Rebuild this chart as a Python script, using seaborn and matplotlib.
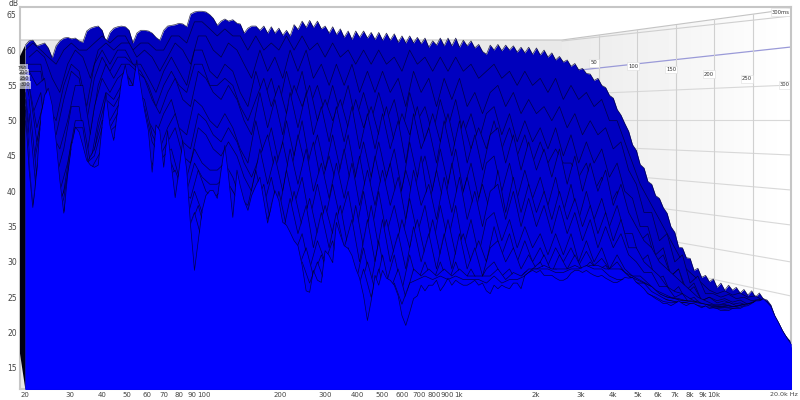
# Waterfall plot, slices drawn back to front
import numpy as np
import matplotlib
matplotlib.use("Agg")
import matplotlib.pyplot as plt
from matplotlib.patches import Polygon
import seaborn as sns

# Frequency grids (Hz) ------------------------------------------------------------------------------------------------
freq_a = [20, 21.4, 23, 24.6, 26.4, 28.3, 30.3, 32.5, 34.8, 37.3,
          40, 42.9, 46, 49.3, 52.8, 56.6, 60.7, 65, 69.7, 74.7,
          80, 85.8, 92, 98.6, 105.7, 113, 121, 130, 139, 149,
          160, 172, 184, 197, 211, 226, 243, 260, 279, 299,
          320, 343, 368, 394, 423, 453, 485, 520, 558, 598,
          641, 687, 736, 789, 845, 906, 971, 1040, 1115, 1195,
          1281, 1373, 1472, 1578, 1691, 1812, 1943, 2082, 2232, 2392,
          2564, 2748, 2945, 3157, 3384, 3627, 3887, 4166, 4465, 4786,
          5130, 5498, 5893, 6316, 6769, 7255, 7776, 8335, 8933, 9575,
          10262, 11000, 11789, 12635, 13543, 14515, 15557, 16674, 17872, 19155,
          20000]
freq_b = [20.7, 22.2, 23.8, 25.5, 27.3, 29.3, 31.4, 33.6, 36, 38.6,
          41.4, 44.4, 47.6, 51, 54.7, 58.6, 62.8, 67.3, 72.2, 77.3,
          82.8, 88.8, 95.2, 102, 109, 117, 125, 135, 144, 154,
          166, 178, 190, 204, 218, 234, 252, 269, 289, 310,
          331, 355, 381, 408, 438, 469, 502, 538, 578, 619,
          664, 711, 762, 817, 875, 938, 1005, 1077, 1154, 1237,
          1326, 1421, 1524, 1634, 1751, 1876, 2012, 2155, 2311, 2476,
          2655, 2845, 3049, 3268, 3503, 3755, 4024, 4313, 4623, 4955,
          5311, 5692, 6101, 6539, 7008, 7511, 8050, 8629, 9248, 9913,
          10624, 11388, 12205, 13081, 14021, 15027, 16106, 17263, 18503, 19831]
freq_fine = sorted(freq_a + freq_b)

# Level in dB, top outline and frontmost slice on the fine grid ---------------------------------------------------------
back_db = [60.7, 61.3, 61.4, 60.6, 60.8, 61, 60.3, 58.9, 60.6, 61.3, 61.7, 61.8, 61.6, 61.7, 61.3, 61.1, 62.7, 63.1, 63.3, 63.4,
           62.8, 61.1, 62.5, 63.1, 63.3, 63.4, 63.3, 62.8, 61, 62.4, 62.8, 62.8, 62.7, 62.4, 61.8, 61.4, 62.8, 63.4, 63.5, 63.6,
           63.8, 63.7, 63.3, 65.1, 65.4, 65.5, 65.5, 65.4, 65, 64.5, 63.5, 64.1, 64.4, 64.1, 64.3, 63.8, 63.7, 62.4, 63.1, 63.4,
           63.4, 62.8, 63.4, 62.4, 63.3, 62.4, 63.1, 62.1, 62.8, 62, 63.6, 62.9, 64.1, 63.2, 64.2, 63.2, 64.1, 63, 63.4, 62.4,
           63.3, 62.2, 63, 61.8, 62.7, 61.5, 62.7, 61.8, 62.7, 61.7, 62.5, 61.5, 62.5, 61.4, 62.4, 61.4, 62.3, 61.1, 62, 61,
           62, 61, 61.8, 60.9, 61.7, 60.4, 61.3, 60.7, 61.7, 60.6, 61.7, 60.6, 61.7, 60.4, 61.4, 60.6, 61.3, 60.3, 60.8, 59.8,
           59.4, 60.7, 60, 60.8, 59.9, 60.7, 60, 60.6, 59.7, 60.4, 59.6, 60.4, 59.4, 60.3, 59.3, 60, 59, 59.6, 58.6, 59.1,
           58.3, 58.6, 57.7, 58.1, 57.2, 57.4, 56.7, 56.6, 55.7, 56, 55, 54.7, 53.6, 53.2, 51.6, 50.8, 49.6, 48.5, 46.6, 45.8,
           43.8, 43.3, 41.4, 41, 39.4, 39, 37.7, 36.9, 35, 34.2, 32.1, 32, 30.6, 30.5, 28.8, 29.1, 27.8, 28.1, 27.2, 27.6,
           26.4, 27, 26, 26.7, 26, 26.4, 25.6, 26.1, 25.3, 25.9, 25, 25.6, 24.8, 24.6, 23.9, 22.4, 21.4, 20.3, 19.4, 18.6, 18.4]
front_db = [51.5, 43, 37.7, 43, 50.8, 53.6, 54.6, 52.2, 47.2, 41.6, 36.9, 42.3, 46.5, 49.1, 48.4, 46.5, 44.4, 43.7, 43.4, 43.7,
            49.4, 53.9, 49.4, 47.2, 51.5, 55.7, 57.9, 55, 55, 58.6, 55, 51.5, 48.6, 42.7, 49.4, 48.6, 43.4, 48.6, 43.7, 39.1,
            43, 47.2, 43, 35.2, 28.8, 33, 37.3, 39.4, 40.1, 40.1, 39, 43, 46.5, 42.3, 36.3, 43, 40.8, 38.7, 37.3, 39.4,
            40.8, 42, 38.7, 35.5, 38, 40.1, 38.7, 35.6, 35.2, 34.2, 33, 32.3, 29.5, 25.9, 25.7, 28.8, 27.4, 27.1, 31.6, 30.9,
            29.9, 35.6, 33.8, 32.3, 31.9, 30.9, 29.1, 27.7, 25.2, 21.7, 24.5, 28.1, 26.7, 28.8, 27.7, 27.4, 26.7, 25.2, 22.4, 21,
            22.8, 24.8, 25.2, 26.7, 25.9, 26.7, 26.7, 27.4, 25.9, 26.7, 27.7, 26.7, 27.4, 27, 26.7, 26.7, 27, 27.4, 26.7, 27,
            25.9, 25.5, 26.7, 26.2, 26.7, 26.4, 26.2, 27, 27, 26.2, 28.1, 28.5, 28.8, 28.5, 28.8, 28.1, 28.1, 28.1, 27.7, 27.4,
            27.4, 27.7, 28.4, 28.8, 28.8, 28.5, 28.8, 28.4, 28.1, 27.9, 28.1, 27.7, 27.4, 27.1, 27.1, 27.4, 27.8, 27.7, 27.8, 27.1,
            26.7, 26.2, 25.5, 25.2, 24.8, 24.5, 24.1, 24.1, 23.8, 24.1, 24.5, 24.1, 23.8, 24.1, 24.1, 23.8, 23.5, 23.8, 23.4, 23.5,
            23.4, 23.1, 23.1, 23.1, 23.4, 23.4, 23.4, 23.7, 23.8, 24.1, 24.5, 24.5, 24.8, 24.3, 23.7, 22.4, 21.4, 20.3, 19.4, 18.6, 18.4]

# Slices in between, back to front. Odd ones use freq_a, even ones freq_b unless listed below
slice_1 = [60, 61, 60, 59, 58, 60, 61, 60, 60, 61,
           62, 61, 62, 62, 60, 61, 61, 60, 60, 62,
           62, 61, 64, 64, 63, 62, 63, 62, 62, 60,
           62, 60, 61, 60, 62, 60, 62, 60, 61, 59,
           61, 59, 60, 58, 60, 58, 60, 58, 59, 57,
           60, 58, 59, 57, 59, 57, 59, 57, 58, 56,
           57, 58, 56, 57, 55, 57, 55, 56, 54, 56,
           53, 55, 53, 54, 52, 53, 50, 50, 47, 44,
           41, 39, 37, 35, 33, 31, 29, 28, 27, 26,
           25.5, 25.9, 25.3, 25.6, 25, 25.2, 24.5, 22, 20, 19, 18.4]
slice_2 = [59, 60, 59, 56, 54, 58, 60, 59, 56, 60,
           61, 60, 61, 61, 59, 60, 59, 57, 59, 61,
           60, 58, 62, 62, 60, 59, 61, 60, 58, 56,
           60, 57, 59, 56, 60, 57, 60, 56, 58, 55,
           58, 55, 58, 54, 57, 54, 57, 54, 56, 52,
           57, 54, 56, 52, 56, 53, 56, 52, 54, 51,
           54, 55, 52, 54, 51, 53, 51, 52, 50, 52,
           49, 51, 48, 50, 48, 49, 46, 47, 43, 41,
           37, 37, 33, 34, 30, 31, 27, 28, 25.5, 25.5,
           25, 25.4, 24.8, 25, 24.5, 24.7, 24, 21.5, 20, 18.8]
slice_3 = [58, 58, 58, 52, 50, 55, 58, 57, 52, 58,
           60, 58, 60, 60, 58, 58, 56, 54, 57, 59,
           57, 55, 60, 60, 57, 56, 58, 57, 54, 52,
           57, 53, 56, 52, 57, 53, 57, 52, 55, 51,
           55, 51, 55, 50, 54, 50, 54, 50, 53, 48,
           54, 50, 52, 48, 53, 49, 53, 48, 51, 47,
           51, 52, 48, 51, 47, 50, 47, 49, 46, 49,
           45, 48, 44, 47, 44, 46, 42, 44, 40, 39,
           35, 35, 31, 32, 28, 29, 26, 27, 24.5, 25,
           24.5, 24.8, 24.3, 24.6, 24, 24.2, 23.6, 21, 19.6, 18.6, 18]
slice_4 = [57, 57, 57, 50, 48, 53, 57, 56, 50, 56,
           59, 57, 59, 59, 58, 57, 55, 52, 55, 57,
           55, 54, 58, 58, 55, 55, 56, 55, 52, 50,
           53, 56, 52, 55, 51, 55, 52, 55, 50, 53,
           50, 53, 49, 53, 49, 52, 48, 52, 47, 51,
           48, 52, 47, 51, 47, 51, 46, 50, 46, 49,
           46, 50, 46, 49, 45, 48, 44, 47, 44, 46,
           44, 44, 42, 44, 40, 42, 38, 40, 37, 36,
           33, 34, 30, 31, 28, 29, 25.5, 26.5, 24.5, 25,
           24.2, 24.5, 24, 24.2, 23.8, 24, 23.4, 20.6, 19.5, 18.5, 17.9]
slice_5 = [57, 55, 56, 48, 46, 50, 55, 55, 48, 55,
           58, 56, 58, 58, 57, 56, 53, 51, 54, 56,
           53, 52, 57, 56, 54, 53, 55, 53, 50, 48,
           54, 49, 53, 48, 54, 49, 54, 48, 52, 47,
           52, 47, 52, 46, 51, 46, 51, 46, 50, 44,
           51, 46, 49, 44, 50, 45, 50, 44, 48, 43,
           48, 49, 44, 48, 43, 47, 43, 46, 42, 46,
           41, 45, 40, 44, 40, 43, 38, 41, 37, 35,
           33, 32, 30, 29, 28, 27, 26, 25, 24.5, 24,
           24, 24.3, 23.8, 24, 23.5, 23.7, 23.2, 20.5, 19.4, 18.5]
slice_6 = [56, 51, 54, 44, 42, 46, 52, 52, 45, 52,
           56, 54, 56, 57, 55, 54, 50, 48, 51, 53,
           49, 48, 53, 52, 50, 49, 51, 49, 46, 44,
           50, 45, 49, 44, 50, 45, 50, 44, 48, 43,
           48, 43, 48, 42, 47, 42, 47, 42, 46, 40,
           47, 42, 45, 40, 46, 41, 46, 40, 44, 39,
           44, 45, 40, 44, 39, 43, 39, 42, 38, 42,
           37, 41, 36, 40, 36, 39, 35, 38, 34, 34,
           30, 31, 27.5, 28, 25.5, 26.5, 24.5, 25, 23.8, 24,
           23.8, 24, 23.6, 23.8, 23.8, 24, 23.3, 20.2, 19.3, 18.5, 17.8]
slice_7 = [55, 49, 53, 42, 40, 44, 50, 50, 44, 50,
           54, 53, 55, 56, 54, 53, 48, 46, 49, 51,
           47, 46, 51, 50, 48, 47, 49, 47, 44, 42,
           45, 48, 43, 47, 42, 48, 43, 47, 41, 45,
           41, 46, 40, 45, 39, 45, 40, 44, 38, 43,
           39, 45, 38, 43, 38, 44, 38, 42, 37, 41,
           37, 43, 37, 42, 37, 41, 37, 40, 36, 40,
           36, 39, 35, 38, 34, 37, 33, 36, 32, 32,
           30, 29, 28, 26.5, 25.8, 25.5, 24.8, 24.2, 23.9, 23.5,
           23.7, 23.9, 23.5, 23.7, 23.7, 23.9, 23.2, 20.1, 19.2, 18.4]
slice_8 = [55, 47, 52, 40, 38, 42, 49, 49, 42, 49,
           53, 52, 54, 55, 53, 52, 47, 45, 47, 49,
           45, 44, 49, 48, 46, 45, 47, 45, 42, 40,
           46, 41, 45, 40, 46, 41, 46, 40, 44, 39,
           44, 39, 44, 38, 43, 38, 43, 38, 42, 36,
           43, 38, 41, 36, 42, 37, 42, 36, 40, 35,
           40, 41, 36, 40, 35, 39, 35, 38, 34, 38,
           34, 37, 33, 36, 32, 35, 32, 34, 31, 30,
           28.5, 28.5, 26.5, 26.5, 25, 25.5, 24, 24.5, 23.5, 23.8,
           23.6, 23.8, 23.4, 23.6, 23.6, 23.8, 23, 20, 19.2, 18.4]
slice_9 = [54, 44, 50, 37, 37, 40, 47, 46, 44, 46,
           50, 50, 52, 53, 51, 50, 45, 43, 45, 46,
           42, 42, 46, 44, 43, 43, 44, 42, 39, 38,
           43, 38, 42, 37, 43, 38, 42, 36, 41, 36,
           41, 36, 40, 34, 40, 34, 40, 34, 38, 33,
           39, 34, 38, 32, 38, 33, 38, 32, 36, 31,
           36, 37, 33, 36, 32, 35, 32, 34, 31, 34,
           31, 34, 30, 33, 30, 32, 29, 31, 29, 28,
           28, 27, 26, 25.5, 25, 24.8, 24.5, 24, 23.8, 23.5,
           23.5, 23.6, 23.5, 23.6, 23.8, 23.9, 23, 20, 19, 18.3, 17.6]
slice_10 = [53, 43, 49, 38, 36, 39, 46, 45, 44, 45,
            49, 49, 51, 52, 50, 48, 43, 41, 43, 44,
            41, 40, 44, 42, 41, 41, 42, 40, 38, 37,
            38, 41, 35, 40, 35, 40, 35, 39, 34, 38,
            34, 38, 32, 38, 32, 38, 32, 36, 31, 36,
            32, 36, 31, 36, 31, 36, 31, 34, 30, 33,
            30, 35, 31, 34, 30, 33, 30, 32, 29.5, 32,
            30, 32, 29.5, 31.5, 29.5, 30.5, 29, 30, 28.5, 28,
            27.4, 26.8, 25.8, 25.2, 24.9, 24.6, 24.5, 24.2, 23.9, 23.6,
            23.5, 23.5, 23.5, 23.6, 23.8, 24, 23, 20, 19, 18.3, 17.6]
slice_11 = [53, 42, 48, 38, 36, 38, 45, 44, 43, 44,
            48, 49, 50, 52, 49, 47, 42, 40, 42, 43,
            40, 39, 43, 40, 39, 40, 41, 39, 37, 36,
            40, 36, 39, 34, 39, 34, 38, 32, 37, 32,
            37, 32, 36, 30, 36, 30, 36, 30, 34, 29,
            35, 30, 34, 29, 34, 29, 34, 29, 32, 28,
            32, 33, 30, 32, 29, 31, 29, 31, 28.5, 31,
            29, 31, 28.8, 30, 28.8, 29.5, 28, 29, 28, 27.5,
            27, 26.5, 25.5, 25, 24.8, 24.5, 24.5, 24.3, 24, 23.7,
            23.5, 23.4, 23.5, 23.7, 23.9, 24.2, 23, 20, 19, 18.2]
slice_12 = [52, 40, 46, 36, 34, 37, 43, 43, 42, 44,
            46, 47, 48, 50, 47, 45, 40, 38, 40, 40,
            38, 36, 40, 37, 36, 37, 38, 36, 34, 33,
            37, 34, 36, 31, 35, 31, 34, 29, 33, 30,
            33, 28, 32, 27, 32, 27, 33, 27, 31, 26,
            31, 27, 30, 27, 30, 27, 30, 27, 29, 27,
            29, 30, 28, 29, 27, 28.5, 29, 30, 28, 29,
            28, 29, 28, 29, 29, 29, 28, 28.5, 28, 27.5,
            26.7, 26, 25.3, 24.8, 24.5, 24.2, 24.2, 24, 23.7, 23.5,
            23.4, 23.3, 23.4, 23.7, 24, 24.5, 24, 21, 19.4, 18.4, 17.5]
slice_13 = [51, 39, 45, 37, 35, 38, 42, 42, 41, 43,
            45, 46, 47, 49, 46, 44, 39, 37, 39, 39,
            37, 35, 38, 34, 34, 36, 37, 35, 33, 32,
            36, 33, 34, 30, 33, 29, 32, 28, 31, 28,
            31, 27, 30, 26, 30, 26, 31, 26, 29, 25,
            29, 28, 29, 28, 29, 28, 29, 28, 28, 28,
            28, 29, 27.5, 28.5, 28, 29, 29, 29.5, 29, 29,
            29, 29.5, 29, 29.5, 29.5, 29, 29, 29, 28, 27,
            27, 25.8, 25.2, 24.6, 24.4, 24.2, 24.4, 24.2, 24, 23.6,
            23.6, 23.6, 23.7, 24, 24.2, 24.3, 23.6, 20.5, 19.2, 18.3]
slice_14 = [50, 38, 44, 36, 34, 37, 40, 41, 40, 42,
            44, 45, 46, 48, 45, 43, 38, 36, 38, 38,
            36, 34, 37, 33, 33, 35, 36, 34, 32, 31,
            35, 32, 33, 29, 31, 28, 30, 27, 30, 27,
            30, 26, 29, 25, 29, 25, 29, 25, 27, 24,
            27, 27.5, 28, 27.5, 28, 27.5, 28, 27.5, 27.5, 27.5,
            27, 28, 27, 27.5, 27.5, 28, 29, 29, 29, 28.5,
            28.5, 29, 29, 29.5, 29, 29, 28, 27.5, 27.5, 27,
            26.5, 25.5, 25, 24.4, 24.2, 24.3, 24.2, 24, 23.7, 23.6,
            23.4, 23.3, 23.4, 23.6, 24, 24.4, 23.8, 21, 19.4, 18.4, 17.5]

x_ticks = [20, 30, 40, 50, 60, 70, 80, 90, 100, 200, 300, 400, 500, 600, 700, 800, 900, 1000,
           2000, 3000, 4000, 5000, 6000, 7000, 8000, 9000, 10000]
x_labels = ["20", "30", "40", "50", "60", "70", "80", "90", "100", "200", "300", "400", "500", "600", "700", "800", "900",
            "1k", "2k", "3k", "4k", "5k", "6k", "7k", "8k", "9k", "10k"]
y_ticks = [15, 20, 25, 30, 35, 40, 45, 50, 55, 60, 65]
time_labels = ["50", "100", "150", "200", "250", "300"]

sns.set_theme(style="white")
text_col = "#444444"
fig = plt.figure(figsize=(8, 4), dpi=100, facecolor="white")

# back wall, drawn in pixels behind the data axes
bg = fig.add_axes([0, 0, 1, 1], zorder=0)
bg.set_xlim(0, 800)
bg.set_ylim(400, 0)
bg.axis("off")
bg.add_patch(plt.Rectangle((20, 40), 542, 350, fc="#e9e9e9", ec="none"))
grad = bg.imshow(np.linspace(0.92, 1, 64)[None, :], cmap="gray", vmin=0, vmax=1, extent=(562, 791, 400, 0), aspect="auto")
grad.set_clip_path(Polygon([(562, 40), (791, 9), (791, 300), (562, 250)], transform=bg.transData))
bg.set_xlim(0, 800)
bg.set_ylim(400, 0)
bg.plot([20, 562, 791], [40, 40, 9], color="#c4c4c4", lw=0.8)
bg.plot([562, 791], [41, 16], color="#cfcfcf", lw=0.8)
for y_end in [85, 120, 155, 190, 225, 262, 296]:
    bg.plot([562, 791], [120 + (y_end - 120) * 0.72, y_end], color="#d8d8d8", lw=0.8)
bg.plot([562, 791], [72, 47], color="#9a9ad8", lw=0.9)
for x_wall in [599.3, 637.3, 675.7, 714.3, 752.7]:
    top = 40 - (x_wall - 562) * 31 / 229
    bg.plot([x_wall, x_wall], [top, 300], color="#d0d0d0", lw=0.8)
for lab, lx, ly in zip(time_labels, [594, 633, 671, 709, 747, 785], [63, 66, 69.5, 74, 79, 85]):
    bg.text(lx, ly, lab, fontsize=3.8, color="#333333", ha="center", va="center",
            bbox=dict(fc="white", ec="#dddddd", lw=0.4, pad=1))
bg.text(781, 12, "300ms", fontsize=3.8, color="#333333", ha="center", va="center",
        bbox=dict(fc="white", ec="#dddddd", lw=0.4, pad=1))

ax = fig.add_axes([19.5 / 800, 11 / 400, 771.5 / 800, 382 / 400], zorder=2)
ax.patch.set_alpha(0)
ax.set_xscale("log")

slices = [(freq_fine, back_db), (freq_a, slice_1), (freq_b, slice_2), (freq_a, slice_3), (freq_a, slice_4),
          (freq_b, slice_5), (freq_a, slice_6), (freq_b, slice_7), (freq_b, slice_8), (freq_a, slice_9),
          (freq_a, slice_10), (freq_b, slice_11), (freq_a, slice_12), (freq_b, slice_13), (freq_a, slice_14),
          (freq_fine, front_db)]
fills = sns.blend_palette(["#0000bc", "#0000f4"], len(slices) - 1) + ["#0000ff"]

floor = 12
for i, (f, db) in enumerate(slices):
    ax.fill_between(f, db, floor, color=fills[i], lw=0, zorder=2 + i)
    sns.lineplot(x=f, y=db, ax=ax, color="#000028", linewidth=0.5, alpha=0.8, estimator=None, sort=False,
                 legend=False, zorder=2.5 + i)

# dark edge of the stacked slices at 20 Hz
ax.fill([18.98, 20, 20, 18.98], [59, 60.7, 12, 17.5], color="#000012", lw=0, zorder=30)

ax.set_xlim(18.98, 20000)
ax.set_ylim(floor, 66.1)
ax.set_xticks(x_ticks)
ax.set_xticklabels(x_labels, fontsize=5, color=text_col)
ax.set_yticks(y_ticks)
ax.set_yticklabels(y_ticks, fontsize=5.5, color=text_col)
ax.minorticks_off()
ax.tick_params(axis="both", length=0, pad=2)
ax.set_xlabel("")
ax.set_ylabel("")
for side in ax.spines.values():
    side.set_color("#c6c6c6")
    side.set_linewidth(1.5)

fig.text(14 / 800, 1 - 3.5 / 400, "dB", fontsize=5.5, color=text_col, ha="center", va="center")
fig.text(798 / 800, 1 - 395 / 400, "20.0k Hz", fontsize=4.6, color=text_col, ha="right", va="center")

# time labels stacked against the left edge
for lab, lx, ly in zip(["150", "200", "250", "300"], [22, 23, 24, 25], [68, 73, 79, 85]):
    fig.text(lx / 800, 1 - ly / 400, lab, fontsize=3.6, color="#222222", ha="center", va="center", zorder=10,
             bbox=dict(fc="white", ec="none", alpha=0.6, pad=0.8))

fig.savefig("out.png", dpi=100)
